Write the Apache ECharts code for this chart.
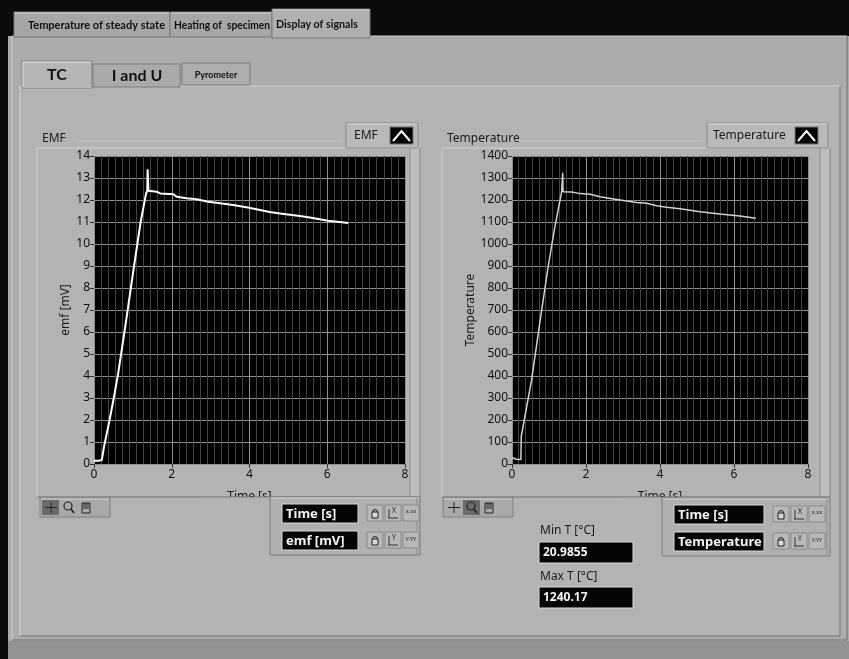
<!DOCTYPE html>
<html><head><meta charset="utf-8">
<script src="https://cdn.jsdelivr.net/npm/echarts@6/dist/echarts.min.js"></script>
<style>html,body{margin:0;padding:0;background:#0b0b0b}#c{width:849px;height:659px}</style>
</head><body><div id="c"></div><script>
// ---- data ----
const emfTime = [0,0.12,0.2,0.24,0.26,0.4,0.52,0.62,0.8,1.03,1.2,1.34,1.37,1.38,1.40,1.61,1.70,2.04,2.13,2.38,2.64,2.94,3.24,3.58,3.92,4.27,4.52,4.78,5.04,5.30,5.55,5.81,6.02,6.32,6.54];
const emfValues = [0.15,0.15,0.18,0.15,0.8,2.0,3.1,4.1,6.2,9.0,11.0,12.3,12.4,13.4,12.42,12.38,12.30,12.26,12.15,12.08,12.03,11.92,11.85,11.77,11.67,11.55,11.45,11.39,11.33,11.27,11.20,11.12,11.06,11.00,10.95];
const tempTime = [0,0.02,0.12,0.24,0.25,0.53,0.75,0.98,1.15,1.34,1.36,1.37,1.38,1.43,1.61,1.84,2.11,2.38,2.74,3.10,3.37,3.64,3.91,4.18,4.54,5.08,5.62,6.16,6.59];
const tempValues = [28,21,22,21,125,382,640,900,1070,1236,1240,1324,1238,1239,1236,1229,1226,1215,1205,1195,1189,1185,1174,1167,1160,1147,1136,1127,1117];
const outerTabs = ['Temperature of steady state','Heating of  specimen','Display of signals'];
const innerTabs = ['TC','I and U','Pyrometer'];
const minT = '20.9855';
const maxT = '1240.17';
const xMinorDivisions = 44; // fine vertical grid lines over 0..8

const FONT = 'Lato, "Noto Sans", sans-serif';
const NS = '"Noto Sans", sans-serif';
function rect(x,y,w,h,fill,stroke,lw,z){return {type:'rect',shape:{x:x,y:y,width:w,height:h},style:{fill:fill||'none',stroke:stroke||null,lineWidth:lw||1},z:z==null?-50:z,silent:true};}
function line(x1,y1,x2,y2,c,w,z){return {type:'line',shape:{x1:x1,y1:y1,x2:x2,y2:y2},style:{stroke:c,lineWidth:w||1},z:z==null?-40:z,silent:true};}
function text(x,y,s,o){o=o||{};return {type:'text',z:o.z==null?-30:o.z,silent:true,scaleX:o.sx||1,originX:x,originY:y,style:{x:x,y:y,text:s,fill:o.color||'#111',font:(o.weight||'normal')+' '+(o.size||12)+'px '+(o.family||FONT),textAlign:o.align||'left',align:o.align||'left',textVerticalAlign:'middle',verticalAlign:'middle'}};}
function bevel(x,y,w,h,light,dark,z){return [line(x,y,x+w,y,light,1,z),line(x,y,x,y+h,light,1,z),line(x,y+h,x+w,y+h,dark,1,z),line(x+w,y,x+w,y+h,dark,1,z)];}

const g = [];
g.push(rect(8,36,841,623,'#acacac',null,0,-100));
g.push(rect(8,641,841,18,'#939393',null,0,-99));
g.push(...bevel(12,36,835,604,'#cfcfcf','#6e6e6e',-98));
g.push(rect(14,12,156,25,'#a6a6a6','#7a7a7a',1,-90));
g.push(rect(170,12,102,25,'#a6a6a6','#7a7a7a',1,-90));
g.push(rect(272,9,98,29,'#b0b0b0','#7a7a7a',1,-89));
g.push(line(15,13,169,13,'#d6d6d6',1,-88),line(171,13,271,13,'#d6d6d6',1,-88),line(273,10,369,10,'#d6d6d6',1,-88));
g.push(text(28,25,outerTabs[0],{weight:'bold',size:11,sx:1.0}));
g.push(text(174,25,outerTabs[1],{weight:'bold',size:11,sx:0.93}));
g.push(text(276,24,outerTabs[2],{weight:'bold',size:11,sx:0.97}));
g.push(rect(20,86,820,550,'#b3b3b3',null,0,-80));
g.push(...bevel(20,86,820,550,'#d2d2d2','#777777',-79));
g.push(rect(22,61,70,27,'#b6b6b6','#7c7c7c',1,-78));
g.push(line(23,62,91,62,'#dcdcdc',1,-77),line(23,62,23,87,'#dcdcdc',1,-77));
g.push(rect(93,64,87,23,'#aaaaaa','#7c7c7c',1,-78));
g.push(rect(182,63,68,22,'#adadad','#7c7c7c',1,-78));
g.push(rect(23,86,68,2,'#b6b6b6',null,0,-76));
g.push(text(57,75,innerTabs[0],{weight:'bold',size:16,align:'center'}));
g.push(text(137,76,innerTabs[1],{weight:'bold',size:16,align:'center'}));
g.push(text(216,75,innerTabs[2],{weight:'bold',size:9,align:'center'}));

function frame(x0,x1,title,legendX,legendW,iconX){
  g.push(...bevel(x0,148,x1-x0,349,'#d0d0d0','#858585',-60));
  g.push(rect(x1-10,148,10,349,'#bdbdbd',null,0,-61));
  g.push(line(x1-10,148,x1-10,497,'#8c8c8c',1,-59));
  g.push(text(x0+5,139,title,{size:12,family:NS,color:'#1a1a1a'}));
  g.push(line(x0+40,141,legendX-4,141,'#c4c4c4',1,-60));
  g.push(rect(legendX,123,legendW,25,'#b9b9b9','#8a8a8a',1,-58));
  g.push(line(legendX+1,124,legendX+legendW-1,124,'#dcdcdc',1,-57));
  g.push(rect(iconX,127,23,17,'#000','#777',1,-56));
  g.push({type:'polyline',z:-55,silent:true,shape:{points:[[iconX+3,141],[iconX+11.5,131],[iconX+20,141]]},style:{stroke:'#fff',lineWidth:2,fill:'none'}});
}
frame(37,420,'EMF',346,72,390);
g.push(text(354,136,'EMF',{size:12,family:NS,color:'#1a1a1a'}));
frame(442,830,'Temperature',707,121,795);
g.push(text(713,136,'Temperature',{size:12,family:NS,color:'#1a1a1a'}));

g.push(rect(200,497,100,8,'#b3b3b3',null,0,20));
g.push(rect(620,497,100,8,'#b3b3b3',null,0,20));
g.push(line(38,497,420,497,'#858585',1,21));
g.push(line(443,497,830,497,'#858585',1,21));

function palette(x,y,sel){
  g.push(rect(x,y,70,19,'#a9a9a9','#808080',1,22));
  g.push(line(x+1,y+1,x+69,y+1,'#d5d5d5',1,23));
  g.push(rect(x+2+sel*18,y+2,17,15,'#6a6a6a',null,0,23));
  g.push(line(x+5,y+9.5,x+17,y+9.5,'#222',1,24),line(x+11,y+4,x+11,y+15,'#222',1,24));
  g.push({type:'circle',z:24,silent:true,shape:{cx:x+28,cy:y+8,r:4},style:{fill:'none',stroke:'#222',lineWidth:1.2}});
  g.push(line(x+31,y+11,x+34,y+15,'#222',1.5,24));
  g.push(rect(x+42,y+5,8,10,'none','#222',1,24));
  g.push(line(x+44,y+5,x+44,y+11,'#222',1,24),line(x+46,y+5,x+46,y+11,'#222',1,24),line(x+48,y+5,x+48,y+11,'#222',1,24));
}
palette(40,498,0);
palette(443,498,1);

function scaleLegend(x,y,w,labels,boxW){
  g.push(rect(x,y,w,58,'#b0b0b0','#7d7d7d',1,22));
  g.push(line(x+1,y+1,x+w-1,y+1,'#d4d4d4',1,23),line(x+w-3,y+1,x+w-3,y+57,'#8a8a8a',1,23));
  labels.forEach(function(l,i){
    const by=y+7+i*27;
    g.push(rect(x+12,by,boxW,19,'#050505','#d8d8d8',1,23));
    g.push(text(x+16,by+10,l,{size:13,weight:'bold',color:'#f4f4f4',family:NS,z:24}));
    const bx=x+12+boxW+9;
    g.push(rect(bx,by+1,16,16,'#b8b8b8','#8a8a8a',1,23));
    g.push(rect(bx+5,by+8,6,6,'#d8d8d8','#222',1,24));
    g.push({type:'arc',z:24,silent:true,shape:{cx:bx+8,cy:by+8,r:2.5,startAngle:Math.PI,endAngle:2*Math.PI},style:{stroke:'#222',fill:'none',lineWidth:1}});
    g.push(rect(bx+18,by+1,16,16,'#b8b8b8','#8a8a8a',1,23));
    g.push(line(bx+21,by+14,bx+31,by+14,'#333',1,24),line(bx+22,by+5,bx+22,by+14,'#333',1,24));
    g.push(text(bx+27,by+7,i===0?'X':'Y',{size:7,align:'center',z:24,color:'#333'}));
    g.push(rect(bx+36,by+1,16,16,'#b8b8b8','#8a8a8a',1,23));
    g.push(text(bx+44,by+7,i===0?'x.xx':'y.yy',{size:6,align:'center',z:24,color:'#333'}));
  });
}
scaleLegend(270,497,150,['Time [s]','emf [mV]'],76);
scaleLegend(662,498,168,['Time [s]','Temperature'],90);

g.push(text(540,531,'Min T [°C]',{size:12,family:NS,color:'#1a1a1a',z:24}));
g.push(rect(539,542,94,21,'#050505','#d8d8d8',1,22));
g.push(text(543,553,minT,{size:12,weight:'bold',color:'#f4f4f4',family:NS,z:24}));
g.push(text(540,577,'Max T [°C]',{size:12,family:NS,color:'#1a1a1a',z:24}));
g.push(rect(539,587,94,21,'#050505','#d8d8d8',1,22));
g.push(text(543,598,maxT,{size:12,weight:'bold',color:'#f4f4f4',family:NS,z:24}));

function minorX(gi){return {gridIndex:gi,type:'value',position:'top',min:0,max:8,interval:8/xMinorDivisions,
  axisLine:{show:false},axisTick:{show:false},axisLabel:{show:false},
  splitLine:{show:true,lineStyle:{color:'#444444',width:1}}};}
function xAxisCfg(gi){return {gridIndex:gi,type:'value',position:'bottom',min:0,max:8,interval:2,
  axisLine:{show:false},axisTick:{show:true,length:4,lineStyle:{color:'#333'}},
  axisLabel:{color:'#111',fontSize:12,fontFamily:NS,margin:5},
  splitLine:{show:true,lineStyle:{color:'#8e8e8e',width:1}},
  name:'Time [s]',nameLocation:'middle',nameGap:27,nameTextStyle:{color:'#1a1a1a',fontSize:12,fontFamily:NS}};}
function yAxisCfg(gi,max,iv,name,gap){return {gridIndex:gi,type:'value',position:'left',min:0,max:max,interval:iv,
  axisLine:{show:false},axisTick:{show:true,length:4,lineStyle:{color:'#333'}},
  axisLabel:{color:'#111',fontSize:12,fontFamily:NS,margin:4,formatter:function(v){return String(v);}},
  splitLine:{show:true,lineStyle:{color:'#8e8e8e',width:1}},
  name:name,nameLocation:'middle',nameGap:gap,nameRotate:90,nameTextStyle:{color:'#1a1a1a',fontSize:12,fontFamily:NS}};}

const chart = echarts.init(document.getElementById('c'),null,{renderer:'canvas'});
chart.setOption({
  backgroundColor:'#0b0b0b',
  animation:false,
  grid:[{left:94,top:156,width:311,height:308,show:true,backgroundColor:'#000',borderWidth:0},
        {left:512,top:156,width:296,height:308,show:true,backgroundColor:'#000',borderWidth:0}],
  xAxis:[minorX(0),minorX(1),xAxisCfg(0),xAxisCfg(1)],
  yAxis:[yAxisCfg(0,14,1,'emf [mV]',22),yAxisCfg(1,1400,100,'Temperature',34)],
  series:[
    {type:'line',xAxisIndex:2,yAxisIndex:0,showSymbol:false,data:emfTime.map((t,i)=>[t,emfValues[i]]),lineStyle:{color:'#ffffff',width:2},z:5},
    {type:'line',xAxisIndex:3,yAxisIndex:1,showSymbol:false,data:tempTime.map((t,i)=>[t,tempValues[i]]),lineStyle:{color:'#d2d2d2',width:1.5},z:5}
  ],
  graphic:{elements:g}
});
</script></body></html>
